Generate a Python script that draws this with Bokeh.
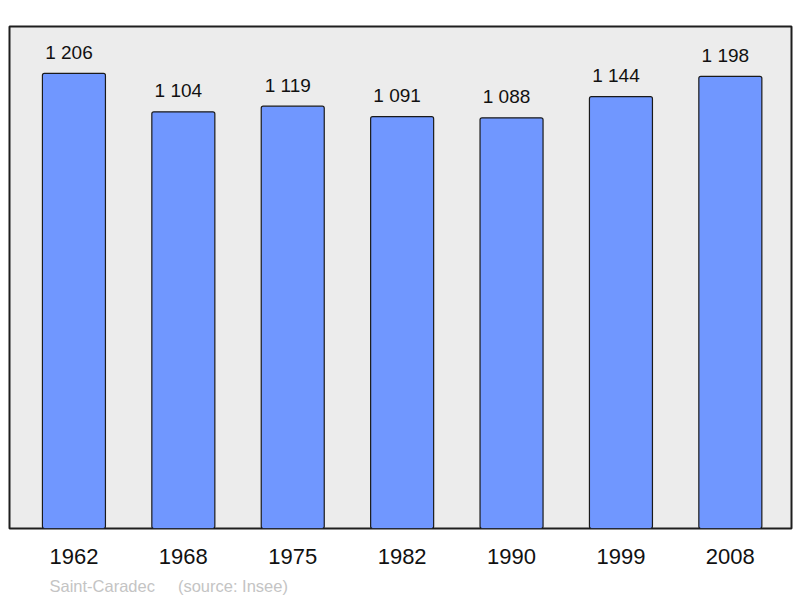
from bokeh.plotting import figure
from bokeh.models import ColumnDataSource, FixedTicker, Range1d, Title
from bokeh.core.properties import value
from bokeh.embed import file_html
from bokeh.resources import INLINE

years = ["1962", "1968", "1975", "1982", "1990", "1999", "2008"]
population = [1206, 1104, 1119, 1091, 1088, 1144, 1198]
value_labels = [f"{v:,}".replace(",", " ") for v in population]
commune = "Saint-Caradec"
source_note = "(source: Insee)"

idx = list(range(len(years)))
src = ColumnDataSource(dict(x=idx, pop=population, lab=value_labels))

p = figure(width=800, height=598, output_backend="svg", toolbar_location=None,
           x_range=Range1d(-0.589, 6.559), y_range=Range1d(0, 1330),
           y_axis_location=None, min_border_left=9, min_border_right=9,
           min_border_top=26, min_border_bottom=70)

p.background_fill_color = "#ececec"
p.border_fill_color = "white"
p.outline_line_color = "#1e1e1e"
p.outline_line_width = 2
p.xgrid.visible = False
p.ygrid.visible = False

p.vbar(x="x", top="pop", width=0.576, bottom=0, source=src,
       fill_color="#7097ff", line_color="#1a1a1a", line_width=1.2,
       border_radius=2)

p.text(x="x", y="pop", text="lab", source=src, text_align="center",
       text_baseline="alphabetic", x_offset=-5, y_offset=-21,
       text_font=value("Liberation Sans"), text_font_size="19px",
       text_color="#111111")

ax = p.xaxis[0]
ax.ticker = FixedTicker(ticks=idx)
ax.major_label_overrides = {i: y for i, y in enumerate(years)}
ax.axis_line_color = None
ax.major_tick_line_color = None
ax.minor_tick_line_color = None
ax.major_label_text_font = "Liberation Sans"
ax.major_label_text_font_size = "22px"
ax.major_label_text_color = "#111111"
ax.major_label_standoff = 14
# invisible spacer label pushing the source note a few pixels down
ax.axis_label = "\u00a0"
ax.axis_label_text_font_size = "4px"
ax.axis_label_standoff = 0

note = Title(text=commune + "\u00a0" * 5 + source_note, align="left", offset=40,
             text_font="Liberation Sans", text_font_size="16.5px",
             text_font_style="normal", text_color="#c4c4c4", standoff=0)
p.add_layout(note, "below")

open("out.html", "w").write(file_html(p, INLINE))
